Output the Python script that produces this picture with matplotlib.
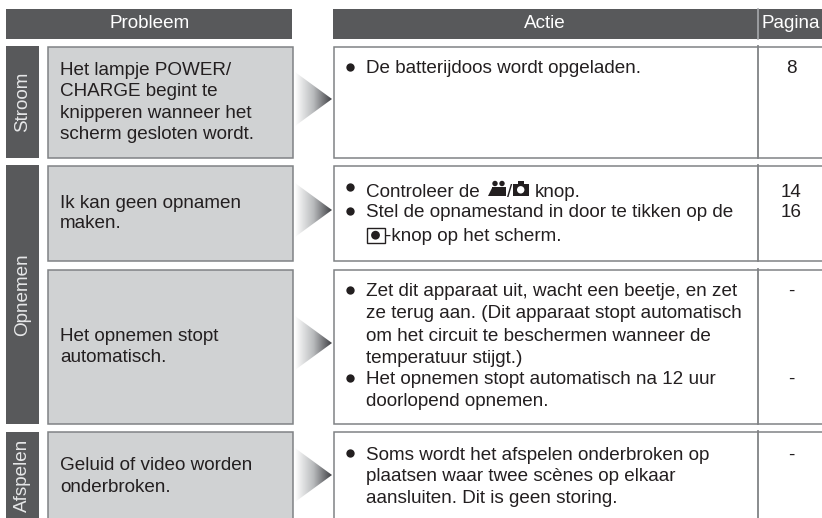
import matplotlib
matplotlib.use("Agg")
import matplotlib.pyplot as plt, numpy as np
from matplotlib.patches import Rectangle, Polygon, Circle

headers = ["Probleem", "Actie", "Pagina"]
sections = ["Stroom", "Opnemen", "Afspelen"]

problem_lines = [
    ["Het lampje POWER/", "CHARGE begint te", "knipperen wanneer het", "scherm gesloten wordt."],
    ["Ik kan geen opnamen", "maken."],
    ["Het opnemen stopt", "automatisch."],
    ["Geluid of video worden", "onderbroken."],
]
problem_baselines = [[75, 96.5, 117.5, 139], [208, 228], [341, 362], [470, 492]]

action_lines = [
    "De batterijdoos wordt opgeladen.",
    "Stel de opnamestand in door te tikken op de",
    "Zet dit apparaat uit, wacht een beetje, en zet",
    "ze terug aan. (Dit apparaat stopt automatisch",
    "om het circuit te beschermen wanneer de",
    "temperatuur stijgt.)",
    "Het opnemen stopt automatisch na 12 uur",
    "doorlopend opnemen.",
    "Soms wordt het afspelen onderbroken op",
    "plaatsen waar twee scènes op elkaar",
    "aansluiten. Dit is geen storing.",
]
action_baselines = [73, 217, 296, 318, 341, 363, 384, 406, 460, 481, 503]
bullet_rows = [67, 187, 211, 290, 378, 453]

page_labels = ["8", "14", "16", "-", "-", "-"]
page_baselines = [73, 197, 217, 296, 384, 460]

DARK = "#58595b"
GRAY = "#d0d2d3"
EDGE = "#808285"
INK = "#231f20"
FS = 13.6

plt.rcParams["font.family"] = ["Liberation Sans", "DejaVu Sans"]
fig = plt.figure(figsize=(8.22, 5.18), dpi=100)
ax = fig.add_axes([0, 0, 1, 1])
ax.set_xlim(0, 822)
ax.set_ylim(518, 0)
ax.axis("off")

# header bars
ax.add_patch(Rectangle((6, 9), 286, 30, color=DARK, lw=0))
ax.add_patch(Rectangle((333, 9), 489, 30, color=DARK, lw=0))
ax.plot([758, 758], [9, 39], color="#a7a9ac", lw=1.2)
for x, label in zip([150, 545, 791], headers):
    ax.text(x, 28, label, color="white", fontsize=FS, ha="center", va="baseline")

# section tabs on the left
tabs = [(46, 158), (165, 424), (432, 518)]
for (top, bottom), label in zip(tabs, sections):
    ax.add_patch(Rectangle((6, top), 33, bottom - top, color=DARK, lw=0))
    ax.text(22.5, (top + bottom) / 2, label, color="#e6e7e8", fontsize=FS, rotation=90,
            ha="center", va="center")

# one row per problem
rows = [(46, 158), (165, 261), (269, 424), (431, 519)]
tips = [99, 210, 343, 475]
grad = np.linspace(0, 1, 256).reshape(1, -1)
cmap = matplotlib.colors.LinearSegmentedColormap.from_list("arrow", ["#ffffff", "#b9bbbd", "#3f4044"])
for (top, bottom), tip in zip(rows, tips):
    ax.add_patch(Rectangle((47.5, top + 0.5), 245, bottom - top - 1, fc=GRAY, ec=EDGE, lw=1.1))
    ax.add_patch(Rectangle((333.5, top + 0.5), 500, bottom - top - 1, fc="white", ec=EDGE, lw=1.1))
    ax.plot([758, 758], [top, bottom], color=EDGE, lw=1.3)
    im = ax.imshow(grad, extent=(295, 332, tip + 28, tip - 28), cmap=cmap, aspect="auto", zorder=2)
    tri = Polygon([(295, tip - 27), (332, tip), (295, tip + 27)], transform=ax.transData, fc="none", ec="none")
    ax.add_patch(tri)
    im.set_clip_path(tri)
ax.set_xlim(0, 822)
ax.set_ylim(518, 0)

for lines, bases in zip(problem_lines, problem_baselines):
    for line, y in zip(lines, bases):
        ax.text(60, y, line, color=INK, fontsize=FS, va="baseline")

for line, y in zip(action_lines, action_baselines):
    ax.text(366, y, line, color=INK, fontsize=FS, va="baseline")

ax.plot([350] * len(bullet_rows), bullet_rows, "o", color=INK, ms=6, mew=0, ls="none")

# line with the camera and photo icons
ax.text(366, 197, "Controleer de", color=INK, fontsize=FS, va="baseline")
ax.text(506.5, 197, "/", color=INK, fontsize=FS, va="baseline")
ax.text(535, 197, "knop.", color=INK, fontsize=FS, va="baseline")
ax.add_patch(Rectangle((492, 186.5), 14, 9.5, color=INK, lw=0))
ax.add_patch(Polygon([(488, 196), (492, 188), (492, 196)], color=INK, lw=0))
ax.add_patch(Circle((495, 183.5), 2.7, color=INK, lw=0))
ax.add_patch(Circle((502, 183.5), 2.7, color=INK, lw=0))
ax.add_patch(Rectangle((513, 183.5), 15.5, 12.5, color=INK, lw=0))
ax.add_patch(Rectangle((517.5, 180.5), 6.5, 3.5, color=INK, lw=0))
ax.add_patch(Circle((520.7, 189.8), 3.7, color="white", lw=0))

# record button line
ax.add_patch(Rectangle((366.5, 228), 18, 14.5, fc="white", ec=INK, lw=1))
ax.add_patch(Circle((375.5, 235.2), 4.4, color=INK, lw=0))
ax.text(385, 241, "-knop op het scherm.", color=INK, fontsize=FS, va="baseline")

for label, y in zip(page_labels, page_baselines):
    ax.text(791, y, label, color=INK, fontsize=FS, ha="center", va="baseline")

fig.savefig("out.png", dpi=100)
